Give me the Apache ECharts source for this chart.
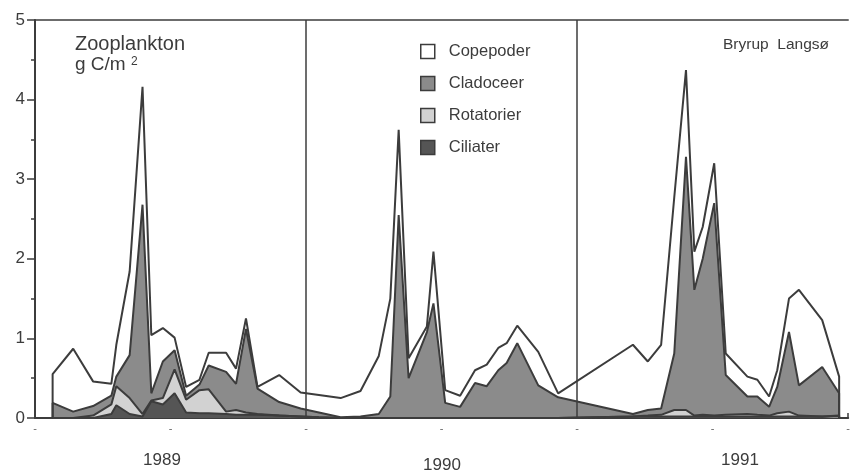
<!DOCTYPE html>
<html>
<head>
<meta charset="utf-8">
<script src="https://cdn.jsdelivr.net/npm/echarts@6/dist/echarts.min.js"></script>
<style>
  html, body { margin: 0; padding: 0; background: #fff; }
  #chart { width: 853px; height: 473px; }
</style>
</head>
<body>
<div id="chart"></div>
<script>
// Sampling dates, in months counted from 1 January 1989
const sampleMonth = [
  0.78, 0.78, 1.69, 2.57, 3.38, 3.60, 4.19, 4.76, 5.15, 5.66, 6.18, 6.69, 7.28, 7.69,
  8.46, 8.90, 9.34, 9.85, 10.81, 11.76, 12.57,
  13.53, 14.41, 15.22, 15.73, 16.10, 16.54, 17.35, 17.64, 18.16, 18.82, 19.48, 20.00,
  20.51, 20.88, 21.35, 22.28, 23.16,
  26.47, 27.13, 27.72, 28.30, 28.82, 29.19, 29.56, 30.07, 30.58, 31.54, 31.98, 32.50,
  32.86, 33.38, 33.82, 34.85, 35.60, 35.60
];

// Biomass per group, g C/m2
const ciliater = [
  0, 0, 0, 0, 0.05, 0.16, 0.05, 0.02, 0.21, 0.17, 0.31, 0.07, 0.06, 0.06,
  0.05, 0.04, 0.04, 0.04, 0.03, 0.02, 0.01,
  0, 0, 0, 0, 0, 0, 0, 0, 0, 0, 0, 0,
  0, 0, 0, 0, 0,
  0.02, 0.02, 0.02, 0.02, 0.02, 0.02, 0.02, 0.02, 0.02, 0.02, 0.02, 0.02,
  0.02, 0.02, 0.02, 0.02, 0.02, 0
];
const rotatorier = [
  0, 0, 0, 0.03, 0.12, 0.24, 0.20, 0.03, 0.01, 0.08, 0.30, 0.16, 0.29, 0.30,
  0.03, 0.06, 0.03, 0.01, 0, 0, 0,
  0, 0, 0, 0, 0, 0, 0, 0, 0, 0, 0, 0,
  0, 0, 0, 0, 0,
  0, 0.01, 0.02, 0.08, 0.08, 0.01, 0.02, 0.01, 0.02, 0.03, 0.02, 0.01,
  0.04, 0.06, 0.01, 0, 0.01, 0
];
const cladoceer = [
  0, 0.19, 0.08, 0.12, 0.11, 0.12, 0.54, 2.63, 0.09, 0.46, 0.24, 0.05, 0.07, 0.30,
  0.50, 0.33, 1.05, 0.32, 0.17, 0.10, 0.06,
  0.01, 0.02, 0.05, 0.27, 2.55, 0.50, 1.08, 1.44, 0.19, 0.14, 0.44, 0.40,
  0.60, 0.69, 0.94, 0.41, 0.26,
  0.03, 0.07, 0.08, 0.71, 3.18, 1.58, 1.96, 2.67, 0.50, 0.22, 0.23, 0.11,
  0.33, 1.00, 0.38, 0.62, 0.28, 0
];
const copepoder = [
  0, 0.36, 0.79, 0.31, 0.15, 0.40, 1.05, 1.48, 0.73, 0.42, 0.16, 0.11, 0.06, 0.16,
  0.24, 0.19, 0.13, 0.02, 0.34, 0.20, 0.22,
  0.24, 0.32, 0.73, 1.23, 1.07, 0.25, 0.07, 0.65, 0.16, 0.14, 0.16, 0.27,
  0.28, 0.25, 0.22, 0.42, 0.05,
  0.87, 0.61, 0.80, 1.96, 1.09, 0.48, 0.40, 0.50, 0.27, 0.25, 0.21, 0.13,
  0.21, 0.42, 1.20, 0.59, 0.21, 0
];

const yearLabels = ['1989', '1990', '1991'];
const yearStarts = [12, 24];   // 1 January 1990 and 1991
const groupNames = ['Copepoder', 'Cladoceer', 'Rotatorier', 'Ciliater'];

const FONT = '"Liberation Sans", Arial, Helvetica, sans-serif';
const INK = '#3c3c3c';

const fills = {
  Copepoder: '#ffffff',
  Cladoceer: '#8b8b8b',
  Rotatorier: '#d2d2d2',
  Ciliater: '#555555'
};

// Stack the groups from the bottom up: Ciliater, Rotatorier, Cladoceer, Copepoder.
const bottomUp = [
  ['Ciliater', ciliater],
  ['Rotatorier', rotatorier],
  ['Cladoceer', cladoceer],
  ['Copepoder', copepoder]
];
const running = sampleMonth.map(() => 0);
const levels = {};
bottomUp.forEach(([name, values]) => {
  levels[name] = values.map((v, i) => {
    running[i] = +(running[i] + v).toFixed(3);
    return [sampleMonth[i], running[i]];
  });
});

function areaSeries(name, extra) {
  return Object.assign({
    name: name,
    type: 'line',
    data: levels[name],
    symbol: 'none',
    smooth: false,
    lineStyle: { color: INK, width: 2 },
    itemStyle: { color: fills[name] },
    areaStyle: { color: fills[name], opacity: 1 },
    emphasis: { disabled: true }
  }, extra || {});
}

const chart = echarts.init(document.getElementById('chart'), null, { renderer: 'canvas' });

chart.setOption({
  animation: false,
  backgroundColor: '#ffffff',
  textStyle: { fontFamily: FONT },
  grid: { left: 35, right: 2, top: 20, bottom: 55, containLabel: false },
  legend: {
    orient: 'vertical',
    left: 420,
    top: 43,
    padding: 0,
    itemWidth: 14,
    itemHeight: 14,
    itemGap: 15,
    icon: 'rect',
    selectedMode: false,
    textStyle: { color: INK, fontSize: 16.5, fontFamily: FONT, padding: [0, 0, 0, 9] },
    data: groupNames.map(n => ({
      name: n,
      itemStyle: { color: fills[n], borderColor: INK, borderWidth: 1.5 }
    }))
  },
  xAxis: [
    {
      type: 'value',
      min: 0,
      max: 36,
      interval: 1,
      axisLine: { show: true, lineStyle: { color: INK, width: 2 } },
      axisTick: { show: true, inside: true, length: 5, lineStyle: { color: INK, width: 1.5 } },
      axisLabel: {
        show: true,
        margin: 5,
        color: '#666',
        fontSize: 11,
        formatter: v => (v % 6 === 0 ? '-' : '')
      },
      splitLine: { show: false }
    },
    {
      type: 'value',
      position: 'top',
      min: 0,
      max: 36,
      axisLine: { show: true, lineStyle: { color: INK, width: 1.5 } },
      axisTick: { show: false },
      axisLabel: { show: false },
      splitLine: { show: false }
    }
  ],
  yAxis: {
    type: 'value',
    min: 0,
    max: 5,
    interval: 1,
    axisLine: { show: true, lineStyle: { color: INK, width: 2 } },
    axisTick: { show: true, length: 8, lineStyle: { color: INK, width: 1.5 } },
    minorTick: { show: true, splitNumber: 2, length: 4, lineStyle: { color: INK, width: 1.5 } },
    axisLabel: { color: INK, fontSize: 17, margin: 10, fontFamily: FONT },
    splitLine: { show: false }
  },
  // Drawn from the top level down so each lower band covers the one above it.
  series: [
    areaSeries('Copepoder'),
    areaSeries('Cladoceer'),
    areaSeries('Rotatorier'),
    areaSeries('Ciliater', {
      markLine: {
        silent: true,
        symbol: 'none',
        label: { show: false },
        lineStyle: { color: INK, width: 1.5, type: 'solid' },
        data: yearStarts.map(m => ({ xAxis: m }))
      }
    })
  ],
  graphic: [
    { type: 'text', z: 10, left: 75, top: 34, style: { text: 'Zooplankton', font: '20px ' + FONT, fill: INK } },
    { type: 'text', z: 10, left: 75, top: 55, style: { text: 'g C/m', font: '19px ' + FONT, fill: INK } },
    { type: 'text', z: 10, left: 131, top: 56, style: { text: '2', font: '12px ' + FONT, fill: INK } },
    { type: 'text', z: 10, left: 723, top: 37, style: { text: 'Bryrup  Langsø', font: '15.5px ' + FONT, fill: INK } },
    { type: 'text', z: 10, x: 162, y: 460, style: { text: yearLabels[0], font: '17px ' + FONT, fill: INK, align: 'center', verticalAlign: 'middle' } },
    { type: 'text', z: 10, x: 442, y: 465, style: { text: yearLabels[1], font: '17px ' + FONT, fill: INK, align: 'center', verticalAlign: 'middle' } },
    { type: 'text', z: 10, x: 740, y: 460, style: { text: yearLabels[2], font: '17px ' + FONT, fill: INK, align: 'center', verticalAlign: 'middle' } }
  ]
});
</script>
</body>
</html>
